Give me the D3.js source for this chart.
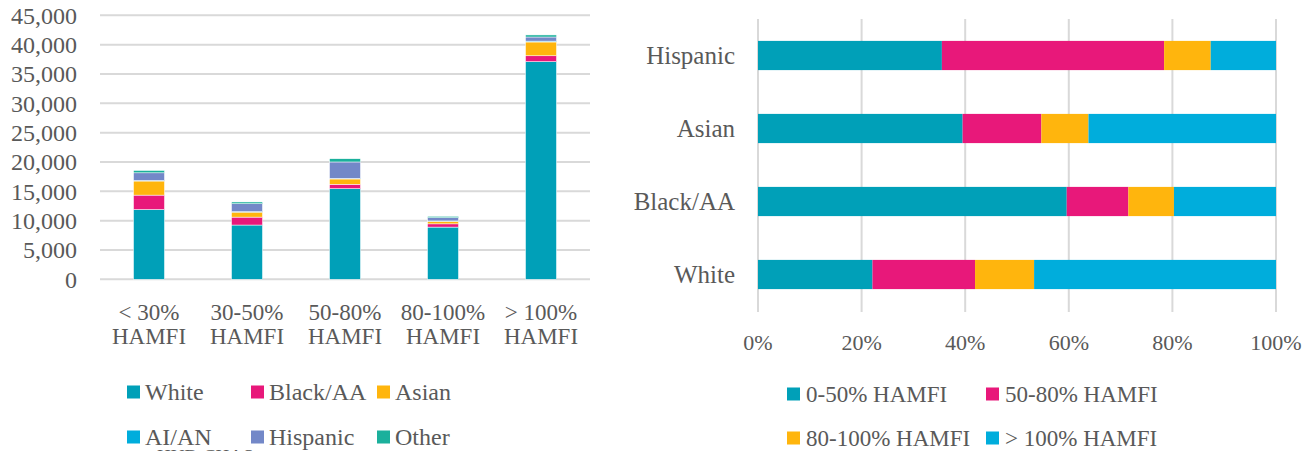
<!DOCTYPE html>
<head>
<meta charset="utf-8">
<title>Households by income and race</title>
<script src="https://d3js.org/d3.v7.min.js"></script>
<style>
  body { margin: 0; background: #fff; }
  svg text { font-family: "Liberation Serif", "DejaVu Serif", serif; fill: #595959; }
</style>
</head>
<body>
<div id="chart"></div>
<script>

  // left chart: households by income band, stacked by race
  var incomeBands = ["< 30%|HAMFI", "30-50%|HAMFI", "50-80%|HAMFI", "80-100%|HAMFI", "> 100%|HAMFI"];
  var races = ["White", "Black/AA", "Asian", "AI/AN", "Hispanic", "Other"];
  var white    = [11900, 9250, 15450, 8900, 37100];
  var black    = [2450, 1350, 750, 550, 1000];
  var asian    = [2400, 850, 900, 450, 2350];
  var aian     = [100, 80, 100, 50, 150];
  var hispanic = [1300, 1350, 2800, 550, 700];
  var other    = [400, 300, 550, 230, 350];
  var yTicks   = [0, 5000, 10000, 15000, 20000, 25000, 30000, 35000, 40000, 45000];

  // right chart: share of each race by income band
  var groups   = ["Hispanic", "Asian", "Black/AA", "White"];
  var shareKeys = ["0-50% HAMFI", "50-80% HAMFI", "80-100% HAMFI", "> 100% HAMFI"];
  var share0to50   = [35.5, 39.5, 59.6, 22.1];
  var share50to80  = [42.9, 15.2, 11.9, 19.8];
  var share80to100 = [9.0, 9.1, 8.8, 11.4];
  var shareOver100 = [12.6, 36.2, 19.7, 46.7];
  var xTicks = [0, 20, 40, 60, 80, 100];

  var raceColors  = ["#00a0b8", "#e8187a", "#ffb50d", "#00addc", "#7388c8", "#1bb09c"];
  var shareColors = ["#00a0b8", "#e8187a", "#ffb50d", "#00addc"];

  var svg = d3.select("#chart")
    .append("svg")
      .attr("width", 1313)
      .attr("height", 451);

  // ---------- left chart ----------
  var left = svg.append("g");

  var x = d3.scaleBand()
    .domain(incomeBands)
    .range([100, 590])
    .paddingInner(0.684)
    .paddingOuter(0.342);

  var y = d3.scaleLinear()
    .domain([0, 45000])
    .range([279.3, 15.3]);

  left.append("g")
    .selectAll("line")
    .data(yTicks)
    .enter()
    .append("line")
      .attr("x1", 100)
      .attr("x2", 590)
      .attr("y1", function(d) { return y(d); })
      .attr("y2", function(d) { return y(d); })
      .style("stroke", "#d9d9d9")
      .style("stroke-width", 2);

  left.append("g")
    .selectAll("text")
    .data(yTicks)
    .enter()
    .append("text")
      .attr("x", 77)
      .attr("y", function(d) { return y(d); })
      .attr("dy", "0.35em")
      .style("text-anchor", "end")
      .style("font-size", "24px")
      .text(function(d) { return d3.format(",")(d); });

  var rows = incomeBands.map(function(c, i) {
    return { cat: c, "White": white[i], "Black/AA": black[i], "Asian": asian[i],
             "AI/AN": aian[i], "Hispanic": hispanic[i], "Other": other[i] };
  });
  var stacked = d3.stack().keys(races)(rows);

  left.append("g")
    .selectAll("g")
    .data(stacked)
    .enter()
    .append("g")
      .style("fill", function(d, i) { return raceColors[i]; })
    .selectAll("rect")
    .data(function(d) { return d; })
    .enter()
    .append("rect")
      .attr("x", function(d) { return x(d.data.cat); })
      .attr("width", x.bandwidth())
      .attr("y", function(d) { return y(d[1]); })
      .attr("height", function(d) { return y(d[0]) - y(d[1]); })
      .style("stroke", "#ffffff")
      .style("stroke-width", 0.5);

  var catLabels = left.append("g")
    .selectAll("text")
    .data(incomeBands)
    .enter()
    .append("text")
      .attr("x", function(d) { return x(d) + x.bandwidth() / 2; })
      .attr("y", 320)
      .style("text-anchor", "middle")
      .style("font-size", "23px");
  catLabels.append("tspan")
    .attr("x", function(d) { return x(d) + x.bandwidth() / 2; })
    .text(function(d) { return d.split("|")[0]; });
  catLabels.append("tspan")
    .attr("x", function(d) { return x(d) + x.bandwidth() / 2; })
    .attr("dy", 24)
    .text(function(d) { return d.split("|")[1]; });

  var leftLegendX = [127, 251, 377];
  var leftLegend = left.append("g")
    .selectAll("g")
    .data(races)
    .enter()
    .append("g")
      .attr("transform", function(d, i) {
        return "translate(" + leftLegendX[i % 3] + "," + (i < 3 ? 392 : 437) + ")";
      });
  leftLegend.append("rect")
    .attr("x", 0)
    .attr("y", -6.5)
    .attr("width", 13)
    .attr("height", 13)
    .style("fill", function(d, i) { return raceColors[i]; });
  leftLegend.append("text")
    .attr("x", 18)
    .attr("dy", "0.35em")
    .style("font-size", "24px")
    .text(function(d) { return d; });

  // source line, cut off at the bottom edge
  left.append("text")
    .attr("x", 157)
    .attr("y", 463)
    .style("font-size", "19px")
    .text("HUD CHAS");

  // ---------- right chart ----------
  var right = svg.append("g");

  var x2 = d3.scaleLinear()
    .domain([0, 100])
    .range([758, 1276]);

  var y2 = d3.scaleBand()
    .domain(groups)
    .range([19, 311])
    .paddingInner(0.6)
    .paddingOuter(0.3);

  right.append("g")
    .selectAll("line")
    .data(xTicks)
    .enter()
    .append("line")
      .attr("x1", function(d) { return x2(d); })
      .attr("x2", function(d) { return x2(d); })
      .attr("y1", 19)
      .attr("y2", 312)
      .style("stroke", "#d9d9d9")
      .style("stroke-width", 2);

  right.append("g")
    .selectAll("text")
    .data(xTicks)
    .enter()
    .append("text")
      .attr("x", function(d) { return x2(d); })
      .attr("y", 342)
      .attr("dy", "0.35em")
      .style("text-anchor", "middle")
      .style("font-size", "22px")
      .text(function(d) { return d + "%"; });

  right.append("g")
    .selectAll("text")
    .data(groups)
    .enter()
    .append("text")
      .attr("x", 735)
      .attr("y", function(d) { return y2(d) + y2.bandwidth() / 2; })
      .attr("dy", "0.35em")
      .style("text-anchor", "end")
      .style("font-size", "25px")
      .text(function(d) { return d; });

  var shareRows = groups.map(function(g, i) {
    return { grp: g, "0-50% HAMFI": share0to50[i], "50-80% HAMFI": share50to80[i],
             "80-100% HAMFI": share80to100[i], "> 100% HAMFI": shareOver100[i] };
  });
  var shareStack = d3.stack()
    .keys(shareKeys)
    .offset(d3.stackOffsetExpand)(shareRows);

  right.append("g")
    .selectAll("g")
    .data(shareStack)
    .enter()
    .append("g")
      .style("fill", function(d, i) { return shareColors[i]; })
    .selectAll("rect")
    .data(function(d) { return d; })
    .enter()
    .append("rect")
      .attr("x", function(d) { return x2(d[0] * 100); })
      .attr("width", function(d) { return x2(d[1] * 100) - x2(d[0] * 100); })
      .attr("y", function(d) { return y2(d.data.grp); })
      .attr("height", y2.bandwidth());

  var rightLegendX = [787, 986];
  var rightLegend = right.append("g")
    .selectAll("g")
    .data(shareKeys)
    .enter()
    .append("g")
      .attr("transform", function(d, i) {
        return "translate(" + rightLegendX[i % 2] + "," + (i < 2 ? 394 : 438) + ")";
      });
  rightLegend.append("rect")
    .attr("x", 0)
    .attr("y", -6.5)
    .attr("width", 13)
    .attr("height", 13)
    .style("fill", function(d, i) { return shareColors[i]; });
  rightLegend.append("text")
    .attr("x", 19)
    .attr("dy", "0.35em")
    .style("font-size", "23px")
    .text(function(d) { return d; });

</script>
</body>
